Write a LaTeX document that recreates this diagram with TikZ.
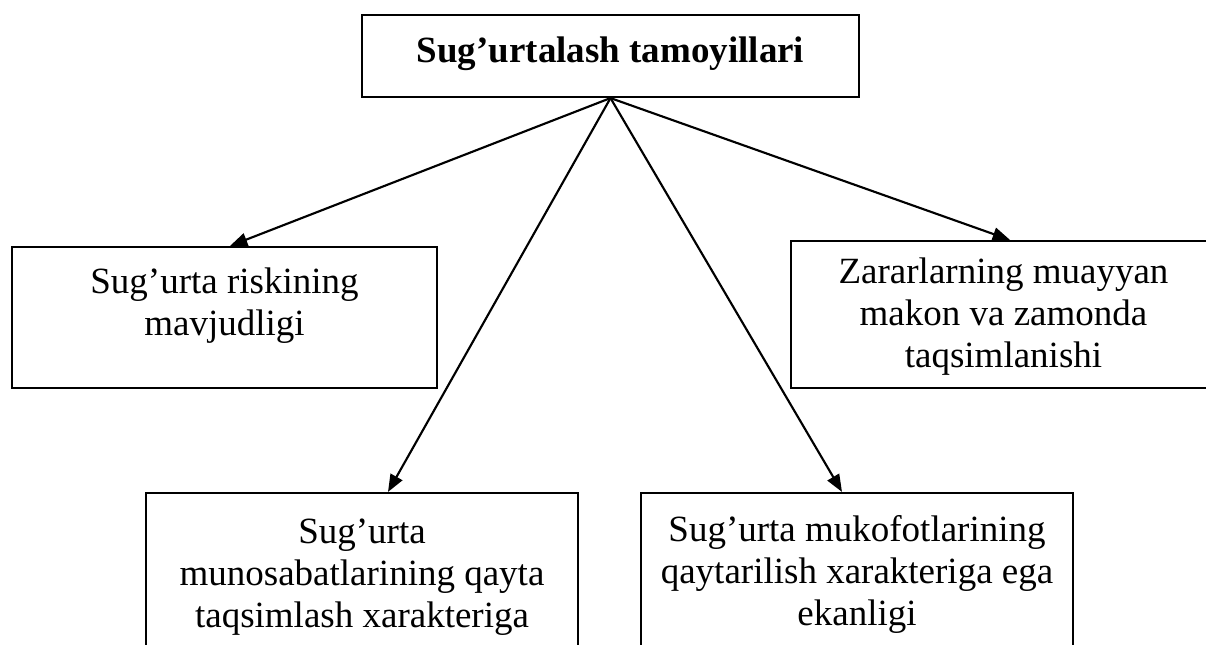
\documentclass[tikz,border=0pt]{standalone}
\usepackage{fontspec}
\setmainfont{Liberation Serif}
\usetikzlibrary{arrows.meta,calc}
\begin{document}
\begin{tikzpicture}[x=0.75pt,y=-0.75pt,
  box/.style={draw,line width=1.6pt,inner sep=0pt},
  txt/.style={align=center,inner sep=0pt,anchor=base,font=\fontsize{27.75pt}{31.5pt}\selectfont},
  arr/.style={line width=1.6pt,-{Triangle[length=13pt,width=10pt]}}]
\useasboundingbox (0,0) rectangle (1206,644);
\clip (0,0) rectangle (1206,644);
% boxes
\node[box,minimum width=372.75pt,minimum height=61.5pt] (title) at (610.5,56) {};
\node[box,minimum width=318.75pt,minimum height=105.75pt] (lbox) at (224.5,317.5) {};
\node[box,minimum width=318.75pt,minimum height=110.25pt] (rbox) at (1003.5,314.5) {};
\node[box,minimum width=324pt,minimum height=140.25pt] (blbox) at (362,586.5) {};
\node[box,minimum width=324pt,minimum height=140.25pt] (brbox) at (857,586.5) {};
% texts (base anchor = baseline of the last line)
\node[txt,font=\fontsize{27.75pt}{31.5pt}\selectfont\bfseries] (title-t) at (610.5,62) {Sug’urtalash tamoyillari};
\node[txt] (lbox-t) at (224.5,335) {Sug’urta riskining\\mavjudligi};
\node[txt] (rbox-t) at (1003.5,367) {Zararlarning muayyan\\makon va zamonda\\taqsimlanishi};
\node[txt] (blbox-t) at (362,627) {Sug’urta\\munosabatlarining qayta\\taqsimlash xarakteriga};
\node[txt] (brbox-t) at (857,625) {Sug’urta mukofotlarining\\qaytarilish xarakteriga ega\\ekanligi};
% connectors
\draw[arr] (title.south) -- ($(lbox.north)+(5.5,0)$);
\draw[arr] (title.south) -- ($(rbox.north)+(6.5,0)$);
\draw[arr] (title.south) -- ($(blbox.north)+(26,0)$);
\draw[arr] (title.south) -- ($(brbox.north)+(-15,0)$);
\end{tikzpicture}
\end{document}
